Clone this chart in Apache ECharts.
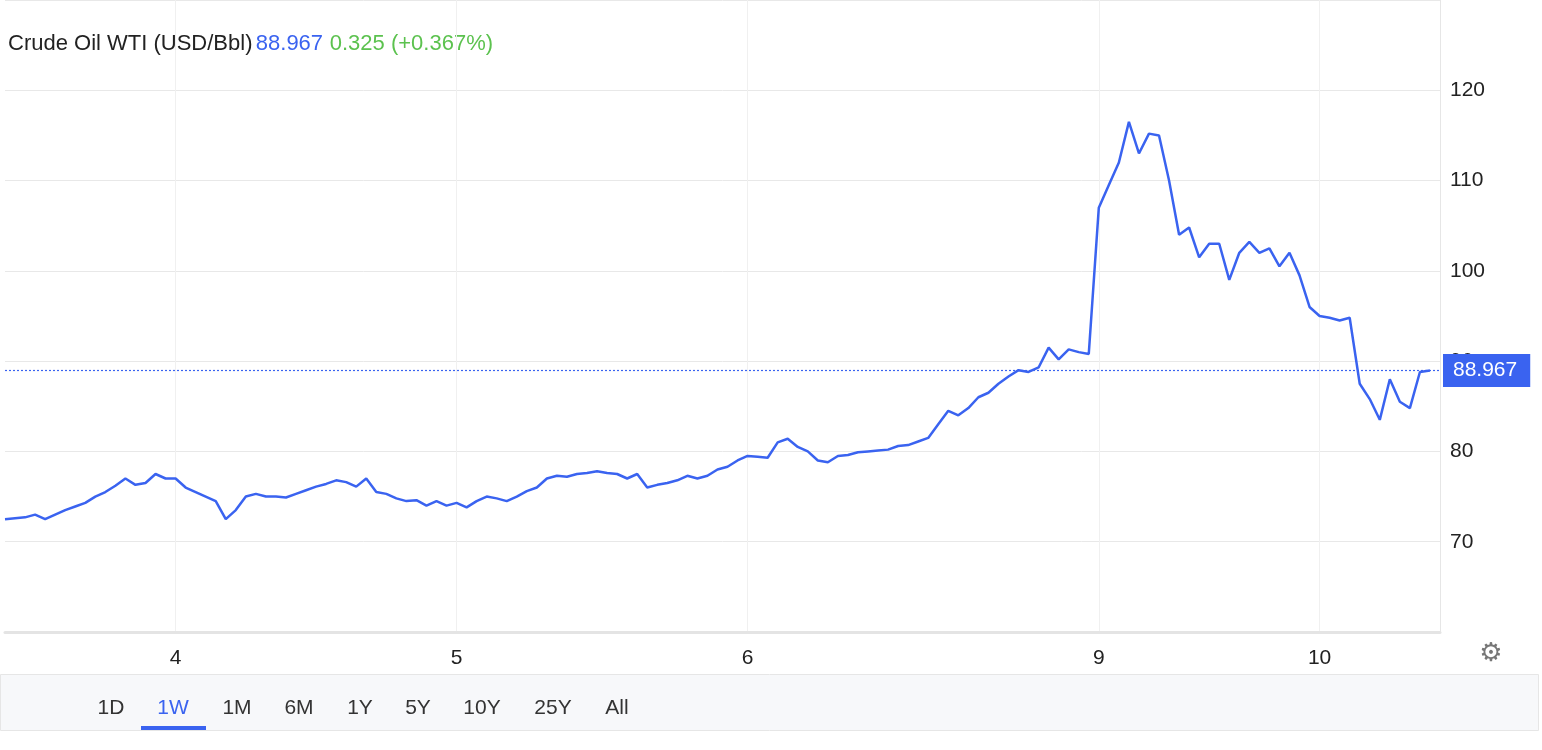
<!DOCTYPE html><html><head><meta charset="utf-8"><script src="https://cdn.jsdelivr.net/npm/echarts@6/dist/echarts.min.js"></script>
<style>html,body{margin:0;background:#fff}#c{width:1542px;height:750px}</style></head><body><div id="c"></div><script>
const prices=[72.5,72.6,72.7,73.0,72.5,73.0,73.5,73.9,74.3,75.0,75.5,76.2,77.0,76.3,76.5,77.5,77.0,77.0,76.0,75.5,75.0,74.5,72.5,73.5,75.0,75.3,75.0,75.0,74.9,75.3,75.7,76.1,76.4,76.8,76.6,76.1,77.0,75.5,75.3,74.8,74.5,74.6,74.0,74.5,74.0,74.3,73.8,74.5,75.0,74.8,74.5,75.0,75.6,76.0,77.0,77.3,77.2,77.5,77.6,77.8,77.6,77.5,77.0,77.5,76.0,76.3,76.5,76.8,77.3,77.0,77.3,78.0,78.3,79.0,79.5,79.4,79.3,81.0,81.4,80.5,80.0,79.0,78.8,79.5,79.6,79.9,80.0,80.1,80.2,80.6,80.7,81.1,81.5,83.0,84.5,84.0,84.8,86.0,86.5,87.5,88.3,89.0,88.8,89.3,91.5,90.2,91.3,91.0,90.8,107.0,109.5,112.0,116.5,113.0,115.2,115.0,110.0,104.0,104.8,101.5,103.0,103.0,99.0,102.0,103.2,102.0,102.5,100.5,102.0,99.5,96.0,95.0,94.8,94.5,94.8,87.5,85.8,83.5,88.0,85.5,84.8,88.8,88.967];
const last=88.967;
const dayTicks={17:'4',45:'5',74:'6',109:'9',131:'10'};
const yTicks=[70,80,90,100,110,120];
const ranges=['1D','1W','1M','6M','1Y','5Y','10Y','25Y','All'];
const cats=[];for(let i=0;i<144;i++)cats.push(i);
const rx=[111,173,237,299,360,418,482,553,617];
const g=[{type:'rect',left:0,top:674,shape:{width:1538,height:56},style:{fill:'#f7f8fa',stroke:'#e6e6e6'}},
{type:'text',left:8,top:33,style:{rich:{a:{fill:'#222',fontSize:22},b:{fill:'#3a63f0',fontSize:22},c:{fill:'#5cc24f',fontSize:22}},text:'{a|Crude Oil WTI (USD/Bbl)} {b|88.967}  {c|0.325 (+0.367%)}',fontFamily:'Liberation Sans'}},
{type:'text',x:1491,y:654,style:{text:'⚙',fill:'#777',fontSize:26,align:'center',verticalAlign:'middle',fontFamily:'DejaVu Sans'}},
{type:'rect',left:141,top:726,shape:{width:65,height:4},style:{fill:'#3a63f0'}}];
ranges.forEach((r,i)=>g.push({type:'text',x:rx[i],y:708,style:{text:r,fill:i==1?'#3a63f0':'#333',fontSize:21,align:'center',verticalAlign:'middle',fontFamily:'Liberation Sans'}}));
const ch=echarts.init(document.getElementById('c'));
ch.setOption({animation:false,graphic:g,
grid:{left:5,right:102,top:-5,bottom:118},
xAxis:{type:'category',data:cats,boundaryGap:false,axisTick:{show:false},
 axisLine:{lineStyle:{color:'#e4e4e4',width:3}},
 axisLabel:{interval:(i)=>dayTicks[i]!==undefined,formatter:(v,i)=>dayTicks[i]||'',color:'#222',fontSize:21,margin:16,fontFamily:'Liberation Sans'},
 splitLine:{show:true,interval:(i)=>dayTicks[i]!==undefined,lineStyle:{color:'#f0f0f0'}}},
yAxis:{type:'value',position:'right',min:60,max:130,interval:10,
 axisLine:{show:true,lineStyle:{color:'#e6e6e6'}},axisTick:{show:false},
 axisLabel:{formatter:v=>yTicks.includes(v)?v:'',color:'#222',fontSize:21,margin:10,fontFamily:'Liberation Sans'},
 splitLine:{lineStyle:{color:'#e8e8e8'}}},
series:[{type:'line',data:prices,showSymbol:false,lineStyle:{color:'#3a63f0',width:2.5},
 markLine:{symbol:'none',silent:true,data:[{yAxis:last,lineStyle:{color:'#3a63f0',type:[2,2],width:1.2}}],
  label:{position:'end',formatter:'88.967',backgroundColor:'#3a63f0',color:'#fff',fontSize:21,padding:[6,13,6,10],distance:3,fontFamily:'Liberation Sans'}}}]});
</script></body></html>
